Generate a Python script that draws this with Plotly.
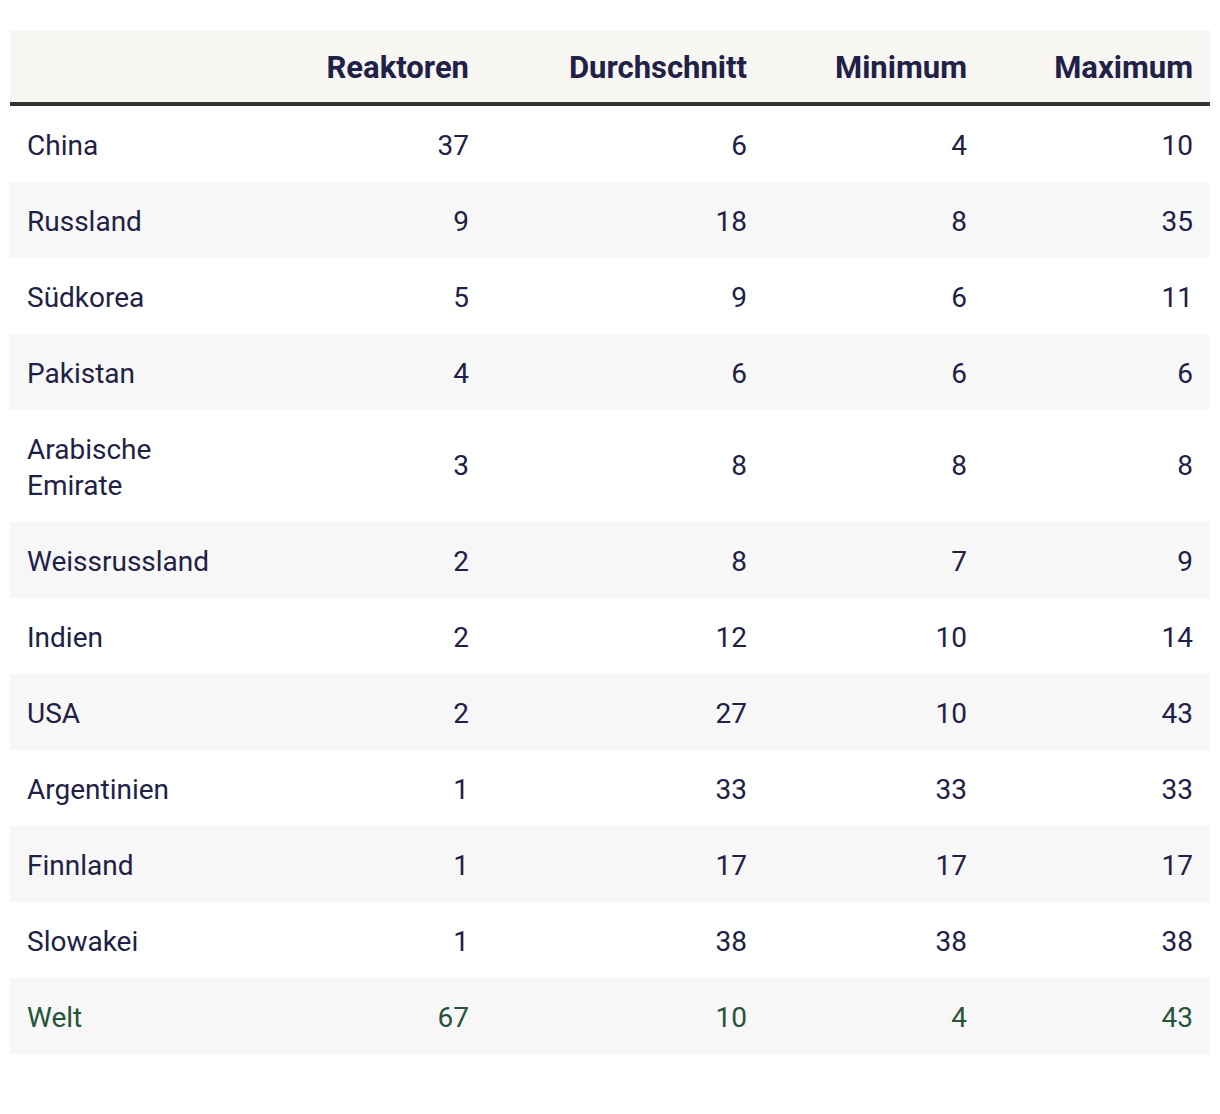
import plotly.graph_objects as go

# ---- data ----
laender = ["China", "Russland", "Südkorea", "Pakistan", "Arabische Emirate",
           "Weissrussland", "Indien", "USA", "Argentinien", "Finnland",
           "Slowakei", "Welt"]
reaktoren = [37, 9, 5, 4, 3, 2, 2, 2, 1, 1, 1, 67]
durchschnitt = [6, 18, 9, 6, 8, 8, 12, 27, 33, 17, 38, 10]
minimum = [4, 8, 6, 6, 8, 7, 10, 10, 33, 17, 38, 4]
maximum = [10, 35, 11, 6, 8, 9, 14, 43, 33, 17, 38, 43]
spalten = ["Reaktoren", "Durchschnitt", "Minimum", "Maximum"]

# ---- styling ----
W, H = 1204, 1098          # page body adds an 8px margin
X0, X1 = 2, 1202           # table extent in figure px
TOP = 22
D_NUM, D_NAME, D_HEAD = 20, 15, 11   # vertical text offsets per layer
ROW_H = 76
NAVY = "#1f2146"
GREEN = "#26543a"
HEAD_FILL = "#f7f6f2"
ALT_FILL = "#f7f7f7"
CLEAR = "rgba(0,0,0,0)"
FONT = "Roboto"
BODY_SIZE = 28
HEAD_SIZE = 31
NAME_BASE = 13.85  # controls line spacing in the name column
HEAD_BASE = 14.6
PAD_BASE = 73      # makes the wrapped row taller

TINY = "<span style='font-size:1px;color:rgba(0,0,0,0)'>.</span>"


def big(s, size=BODY_SIZE):
    return "<span style='font-size:%dpx'>%s</span>" % (size, s)


n = len(laender)
blank = [""] * n

numeric = [reaktoren, durchschnitt, minimum, maximum]
pad_col = [""] * n
name_col = []
num_cols = [[str(v) for v in c] for c in numeric]
for r, s in enumerate(laender):
    if " " in s:
        a, b = s.split(" ", 1)
        name_col.append(TINY + "<br>" + big(a) + "<br><br>" + big(b))
        for c in num_cols:
            c[r] = TINY + "<br>" + c[r]
        pad_col[r] = TINY + "<br>" + TINY   # keeps the wrapped row at its height
    else:
        name_col.append(TINY + "<br>" + big(s))

sizes = [PAD_BASE, NAME_BASE] + [BODY_SIZE] * 5

row_fill = ["white" if i % 2 == 0 else ALT_FILL for i in range(n)]
text_col = [GREEN if s == "Welt" else NAVY for s in laender]
aligns = ["left", "left", "right", "right", "right", "right", "right"]
colw = [9, 258, 200, 278, 220, 226, 9]
head_text = ["", ""] + [TINY + "<br>" + big("<b>%s</b>" % s, HEAD_SIZE) for s in spalten] + [""]

x_dom = [X0 / W, X1 / W]


def layer(delta, cell_vals, head_vals, cell_fill, head_fill):
    return go.Table(
        domain=dict(x=x_dom, y=[0, 1 - (TOP + delta) / H]),
        columnwidth=colw,
        header=dict(values=head_vals, height=ROW_H, fill_color=head_fill,
                    align=aligns, line=dict(width=0, color=CLEAR),
                    font=dict(family=FONT, size=HEAD_BASE, color=NAVY)),
        cells=dict(values=cell_vals, height=ROW_H, align=aligns,
                   fill_color=cell_fill, line=dict(width=0, color=CLEAR),
                   font=dict(family=FONT, size=sizes, color=[text_col] * 7)),
    )


# background: row fills and header fill
bg = layer(0, [pad_col] + [blank] * 6, [""] * 7, [row_fill] * 7, HEAD_FILL)
# numbers
fg_num = layer(D_NUM, [pad_col, blank] + num_cols + [blank], [""] * 7, CLEAR, CLEAR)
# country names
fg_name = layer(D_NAME, [pad_col, name_col] + [blank] * 5, [""] * 7, CLEAR, CLEAR)
# header labels
fg_head = layer(D_HEAD, [pad_col] + [blank] * 6, head_text, CLEAR, CLEAR)

fig = go.Figure([bg, fg_num, fg_name, fg_head])
fig.update_layout(
    width=W, height=H,
    margin=dict(l=0, r=0, t=0, b=0),
    paper_bgcolor="white",
    shapes=[dict(type="line", xref="paper", yref="paper",
                 x0=X0 / W, x1=X1 / W, y0=1 - 96 / H, y1=1 - 96 / H,
                 line=dict(color="#333333", width=4))],
)
fig.write_html("out.html")
